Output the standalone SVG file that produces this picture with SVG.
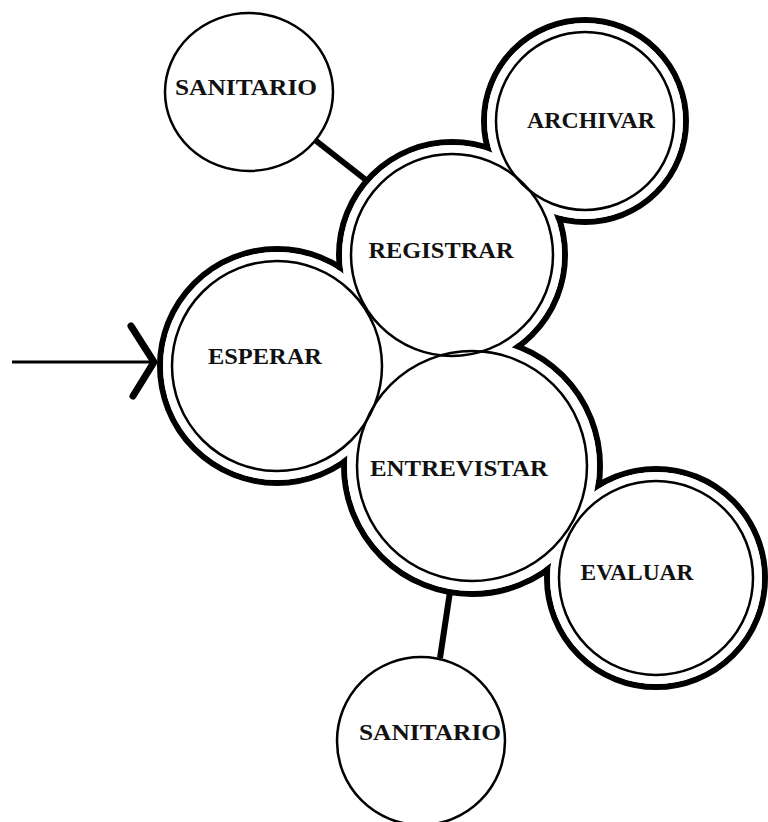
<svg xmlns="http://www.w3.org/2000/svg" width="768" height="822" viewBox="0 0 768 822">
<style>
.halo{fill:#fff;stroke:#000;stroke-width:6}
.erase{fill:#fff;stroke:none}
.node{fill:none;stroke:#000;stroke-width:2.5}
.solo{fill:#fff;stroke:#000;stroke-width:2.5}
.lbl{font-family:"Liberation Serif","DejaVu Serif",serif;font-weight:bold;font-size:23px;fill:#111;text-anchor:middle}
.link{stroke:#000;stroke-width:6;fill:none;stroke-linecap:butt}
</style>
<rect width="768" height="822" fill="#fff"/>
<g id="connectors">
<line class="link" x1="315" y1="140" x2="366" y2="180"/>
<line class="link" x1="451" y1="585" x2="440" y2="658"/>
<line x1="12" y1="362" x2="156" y2="362" stroke="#000" stroke-width="3"/>
<polyline points="131,326 154,362 133,396" fill="none" stroke="#000" stroke-width="7" stroke-linecap="round" stroke-linejoin="miter"/>
</g>
<g id="cluster-outline">
<circle class="halo" cx="277" cy="366" r="117"/>
<circle class="halo" cx="452" cy="255" r="113"/>
<circle class="halo" cx="585" cy="121" r="101"/>
<circle class="halo" cx="472" cy="466" r="128"/>
<circle class="halo" cx="656" cy="578" r="109"/>
<circle class="erase" cx="277" cy="366" r="114"/>
<circle class="erase" cx="452" cy="255" r="110"/>
<circle class="erase" cx="585" cy="121" r="98"/>
<circle class="erase" cx="472" cy="466" r="125"/>
<circle class="erase" cx="656" cy="578" r="106"/>
<polygon class="erase" points="277,366 452,255 472,466"/>
</g>
<g id="esperar">
<circle class="node" cx="277" cy="366" r="105"/>
<text class="lbl" x="265" y="364" textLength="114" lengthAdjust="spacingAndGlyphs">ESPERAR</text>
</g>
<g id="registrar">
<circle class="node" cx="452" cy="255" r="101"/>
<text class="lbl" x="441" y="258" textLength="145" lengthAdjust="spacingAndGlyphs">REGISTRAR</text>
</g>
<g id="archivar">
<circle class="node" cx="585" cy="121" r="89"/>
<text class="lbl" x="591" y="128" textLength="128" lengthAdjust="spacingAndGlyphs">ARCHIVAR</text>
</g>
<g id="entrevistar">
<circle class="node" cx="472" cy="466" r="115"/>
<text class="lbl" x="459" y="476" textLength="178" lengthAdjust="spacingAndGlyphs">ENTREVISTAR</text>
</g>
<g id="evaluar">
<circle class="node" cx="656" cy="578" r="97"/>
<text class="lbl" x="637" y="580" textLength="113" lengthAdjust="spacingAndGlyphs">EVALUAR</text>
</g>
<g id="sanitario-top">
<ellipse class="solo" cx="249" cy="92" rx="84" ry="79"/>
<text class="lbl" x="246" y="95" textLength="142" lengthAdjust="spacingAndGlyphs">SANITARIO</text>
</g>
<g id="sanitario-bottom">
<circle class="solo" cx="421" cy="741" r="84"/>
<text class="lbl" x="430" y="740" textLength="142" lengthAdjust="spacingAndGlyphs">SANITARIO</text>
</g>
</svg>
